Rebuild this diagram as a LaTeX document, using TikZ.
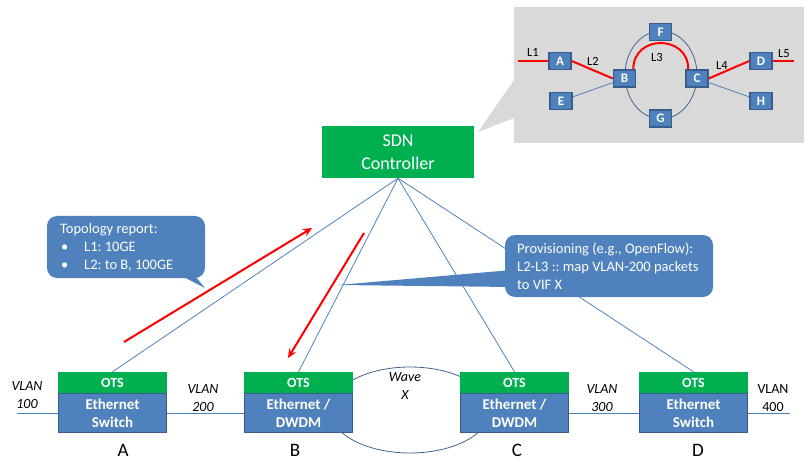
\documentclass[tikz,border=0pt]{standalone}
\usepackage{fontspec}
\setmainfont{Carlito}
\usetikzlibrary{arrows.meta}
\frenchspacing
\definecolor{boxblue}{HTML}{4F81BD}
\definecolor{boxborder}{HTML}{385D8A}
\definecolor{otsgreen}{HTML}{00B050}
\definecolor{greybg}{HTML}{D9D9D9}
\definecolor{linkblue}{HTML}{4F81BD}
\definecolor{ringblue}{HTML}{41648F}
\tikzset{
  link/.style={draw=linkblue, line width=0.8pt},
  ring/.style={draw=ringblue, line width=0.8pt},
  redpath/.style={draw=red, line width=2pt},
  redarrow/.style={draw=red, line width=2pt, -{Stealth[length=9pt,width=8pt]}},
  small/.style={draw=boxborder, line width=1.5pt, fill=boxblue, minimum width=22pt, minimum height=17pt, inner sep=0pt, text=white, font=\fontsize{13}{13}\selectfont\bfseries},
  llabel/.style={font=\fontsize{12.5}{12.5}\selectfont, inner sep=0pt},
  otsg/.style={fill=otsgreen, minimum width=109pt, minimum height=21pt, inner sep=0pt, text=white, font=\fontsize{14}{14}\selectfont\bfseries},
  otsb/.style={fill=boxblue, draw=boxborder, line width=1.2pt, minimum width=108pt, minimum height=39pt, inner sep=0pt, text=white, align=center, font=\fontsize{15}{18}\selectfont\bfseries},
  calloutbox/.style={fill=boxblue, rounded corners=10pt, inner sep=0pt},
  callouttext/.style={inner sep=0pt, text=white, align=left, anchor=west, font=\fontsize{14.5}{18}\selectfont},
  vlan/.style={font=\fontsize{14}{18}\selectfont\itshape, align=center, inner sep=0pt},
  sitelabel/.style={font=\fontsize{19}{19}\selectfont, inner sep=0pt}
}
\begin{document}
\begin{tikzpicture}[x=1pt,y=-1pt]
\useasboundingbox (0,0) rectangle (810,462);

% ---- grey topology inset ----
\fill[greybg] (514,80) -- (478,132) -- (514,118) -- cycle;
\fill[greybg] (514,7) rectangle (804,143);
\draw[ring] (661,75) ellipse [x radius=36, y radius=44];
\node[small] (sA) at (560,61) {A};
\node[small] (sB) at (624.5,78.5) {B};
\node[small] (sC) at (697,78.5) {C};
\node[small] (sD) at (761,61) {D};
\node[small] (sE) at (561,101) {E};
\node[small] (sF) at (660.5,32) {F};
\node[small] (sG) at (660.5,118.5) {G};
\node[small] (sH) at (761,101) {H};
\coordinate (L1end) at (518,61);
\coordinate (L5end) at (794,61);
\draw[link] (sE) -- (sB);
\draw[link] (sC) -- (sH);
\draw[redpath] (L1end) -- (sA.west);
\draw[redpath] (sA.east) -- (sB.west);
\draw[redpath] ([xshift=-3pt]sB.north east) .. controls ([xshift=-3pt,yshift=35pt]sB.north east) and ([xshift=3pt,yshift=35pt]sC.north west) .. ([xshift=3pt]sC.north west);
\draw[redpath] (sC.east) -- (sD.west);
\draw[redpath] (sD.east) -- (L5end);
\node[llabel] (tL1) at (533,52) {L1};
\node[llabel] (tL2) at (593,61) {L2};
\node[llabel] (tL3) at (657,57) {L3};
\node[llabel] (tL4) at (722,65) {L4};
\node[llabel] (tL5) at (784,54) {L5};

% ---- SDN controller ----
\node[fill=otsgreen, minimum width=152pt, minimum height=52pt, inner sep=0pt, text=white, align=center, font=\fontsize{18}{23}\selectfont] (ctrl) at (398,152) {SDN\\Controller};

% ---- wave ellipse ----
\draw[ring] (410,410) ellipse [x radius=80, y radius=43];

% ---- OTS boxes ----
\node[otsg] (Ag) at (112.5,382.5) {OTS};
\node[otsb] (Ab) at (112.5,413) {Ethernet\\Switch};
\node[otsg] (Bg) at (298.5,382.5) {OTS};
\node[otsb] (Bb) at (298.5,413) {Ethernet /\\DWDM};
\node[otsg] (Cg) at (514.5,382.5) {OTS};
\node[otsb] (Cb) at (514.5,413) {Ethernet /\\DWDM};
\node[otsg] (Dg) at (693.5,382.5) {OTS};
\node[otsb] (Db) at (693.5,413) {Ethernet\\Switch};

% ---- controller links ----
\draw[link] (ctrl.south) -- (Ag.north);
\draw[link] (ctrl.south) -- (Bg.north);
\draw[link] (ctrl.south) -- (Cg.north);
\draw[link] (ctrl.south) -- (Dg.north);

% ---- horizontal links ----
\coordinate (leftend) at (17,413);
\coordinate (rightend) at (790,413);
\draw[link] (leftend) -- (Ab.west);
\draw[link] (Ab.east) -- (Bb.west);
\draw[link] (Cb.east) -- (Db.west);
\draw[link] (Db.east) -- (rightend);

% ---- labels ----
\node[vlan] (v100) at (27,395) {VLAN\\100};
\node[vlan] (v200) at (203,398) {VLAN\\200};
\node[vlan] (v300) at (602,398) {VLAN\\300};
\node[font=\fontsize{14}{18}\selectfont, align=center, inner sep=0pt] (v400) at (773,398) {VLAN\\400};
\node[vlan] (wave) at (405,386) {Wave\\X};
\node[sitelabel] (lA) at (123,450) {A};
\node[sitelabel] (lB) at (295,450) {B};
\node[sitelabel] (lC) at (517,450) {C};
\node[sitelabel] (lD) at (698,450) {D};

% ---- callouts ----
\fill[boxblue] (170,270) -- (205,288) -- (190,270) -- cycle;
\node[calloutbox, minimum width=158pt, minimum height=62pt] (topo) at (126,247) {};
\node[callouttext] (topotext) at (60,247)
 {Topology report:\\\makebox[24pt][l]{\hspace{1pt}\textbullet}L1: 10GE\\\makebox[24pt][l]{\hspace{1pt}\textbullet}L2: to B, 100GE};
\fill[boxblue] (512,270) -- (338,285) -- (512,287) -- cycle;
\node[calloutbox, minimum width=208pt, minimum height=62pt] (prov) at (609,266) {};
\node[callouttext] (provtext) at (517,266)
 {Provisioning (e.g., OpenFlow):\\L2-L3 :: map VLAN-200 packets\\to VIF X};

% ---- red arrows ----
\coordinate (r1s) at (124,342);
\coordinate (r1e) at (312,228);
\coordinate (r2s) at (364,233);
\coordinate (r2e) at (288,358);
\draw[redarrow] (r1s) -- (r1e);
\draw[redarrow] (r2s) -- (r2e);
\end{tikzpicture}
\end{document}
